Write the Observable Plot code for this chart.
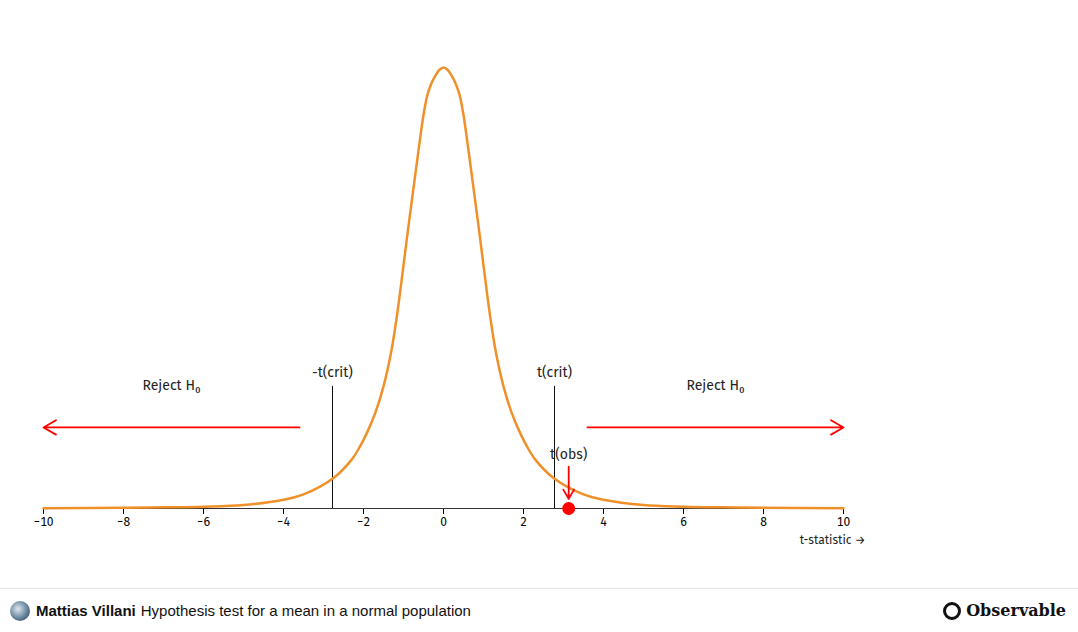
<!DOCTYPE html>
<html>
<head>
<meta charset="utf-8">
<script src="https://cdn.jsdelivr.net/npm/d3@7"></script>
<script src="https://cdn.jsdelivr.net/npm/@observablehq/plot@0.6"></script>
<style>
  body { margin: 0; background: #fff; font-family: "Liberation Sans", Arial, sans-serif; }
  #chart { height: 588px; }
  #footer { border-top: 1px solid #e6e6e6; height: 43px; display: flex; align-items: center; padding: 0 12px 0 10px; font-size: 15px; color: #111; }
  #footer .av { width: 20px; height: 20px; border-radius: 50%; background: radial-gradient(circle at 40% 40%, #dfe7ee, #5b7a95 60%, #2a3b4d); margin-right: 6px; }
  #footer b { margin-right: 5px; }
  #footer .logo { margin-left: auto; font-family: "DejaVu Serif", serif; font-weight: bold; font-size: 16px; display: flex; align-items: center; }
  #footer .logo span { display: inline-block; width: 12px; height: 12px; border: 3px solid #111; border-radius: 50%; margin-right: 5px; }
</style>
</head>
<body>
<div id="chart"></div>
<div id="footer"><div class="av"></div><b>Mattias Villani</b> Hypothesis test for a mean in a normal population<div class="logo"><span></span>Observable</div></div>
<script>
// density of the test statistic (right half; mirrored)
const tHalf = [0, 0.1, 0.2, 0.3, 0.4, 0.5, 0.65, 0.8, 0.9, 1.0, 1.15, 1.3, 1.5, 1.7, 1.9, 2.1, 2.3, 2.75, 3.5, 4, 5, 6, 7, 8, 10]
const fHalf = [0.39, 0.388, 0.383, 0.376, 0.366, 0.348, 0.31, 0.27, 0.243, 0.215, 0.174, 0.14, 0.108, 0.085, 0.068, 0.054, 0.043, 0.027, 0.0125, 0.0078, 0.0031, 0.0016, 0.001, 0.0006, 0.0003]

const tCrit = 2.775
const tObs = 3.13
const critLabels = ['-t(crit)', 't(crit)']
const rejectLabel = 'Reject H\u2080'

const curve = []
for (let i = tHalf.length - 1; i > 0; i--) curve.push({t: -tHalf[i], f: fHalf[i]})
for (let i = 0; i < tHalf.length; i++) curve.push({t: tHalf[i], f: fHalf[i]})

const crit = [{t: -tCrit, label: critLabels[0]}, {t: tCrit, label: critLabels[1]}]
const reject = [{x1: -3.6, x2: -10, lx: -6.8}, {x1: 3.6, x2: 10, lx: 6.8}]

const chart = Plot.plot({
  width: 1078,
  height: 588,
  marginLeft: 43,
  marginRight: 235,
  marginTop: 67,
  marginBottom: 80,
  style: {fontFamily: "'Fira Sans', 'Open Sans', sans-serif", fontSize: "12px"},
  x: {domain: [-10, 10], label: null, ticks: d3.range(-10, 11, 2)},
  y: {domain: [0, 0.39], axis: null},
  marks: [
    Plot.ruleY([0], {stroke: '#333'}),
    Plot.text(['t-statistic →'], {x: 10, y: 0, text: d => d, dy: 32, dx: 22, textAnchor: 'end', fontSize: 12, fill: '#222'}),
    Plot.ruleX(crit, {x: 't', y1: 0, y2: 0.108, stroke: '#111'}),
    Plot.text(crit, {x: 't', y: 0.108, text: 'label', dy: -14, fontSize: 14, fill: '#222'}),
    Plot.line(curve, {x: 't', y: 'f', stroke: '#f0902a', strokeWidth: 2.5, curve: 'catmull-rom'}),
    Plot.arrow(reject, {x1: 'x1', x2: 'x2', y1: 0.0717, y2: 0.0717, stroke: 'red', strokeWidth: 1.8, headLength: 12, bend: 0}),
    Plot.text(reject, {x: 'lx', y: 0.109, text: () => rejectLabel, fontSize: 14, fill: '#222'}),
    Plot.arrow([tObs], {x1: d => d, x2: d => d, y1: 0.037, y2: 0.0085, stroke: 'red', strokeWidth: 1.8, headLength: 10, bend: 0}),
    Plot.text([tObs], {x: d => d, y: 0.037, text: () => 't(obs)', dy: -12, fontSize: 14, fill: '#222'}),
    Plot.dot([tObs], {x: d => d, y: 0, r: 6.5, fill: 'red'})
  ]
})
document.getElementById('chart').append(chart)
</script>
</body>
</html>
